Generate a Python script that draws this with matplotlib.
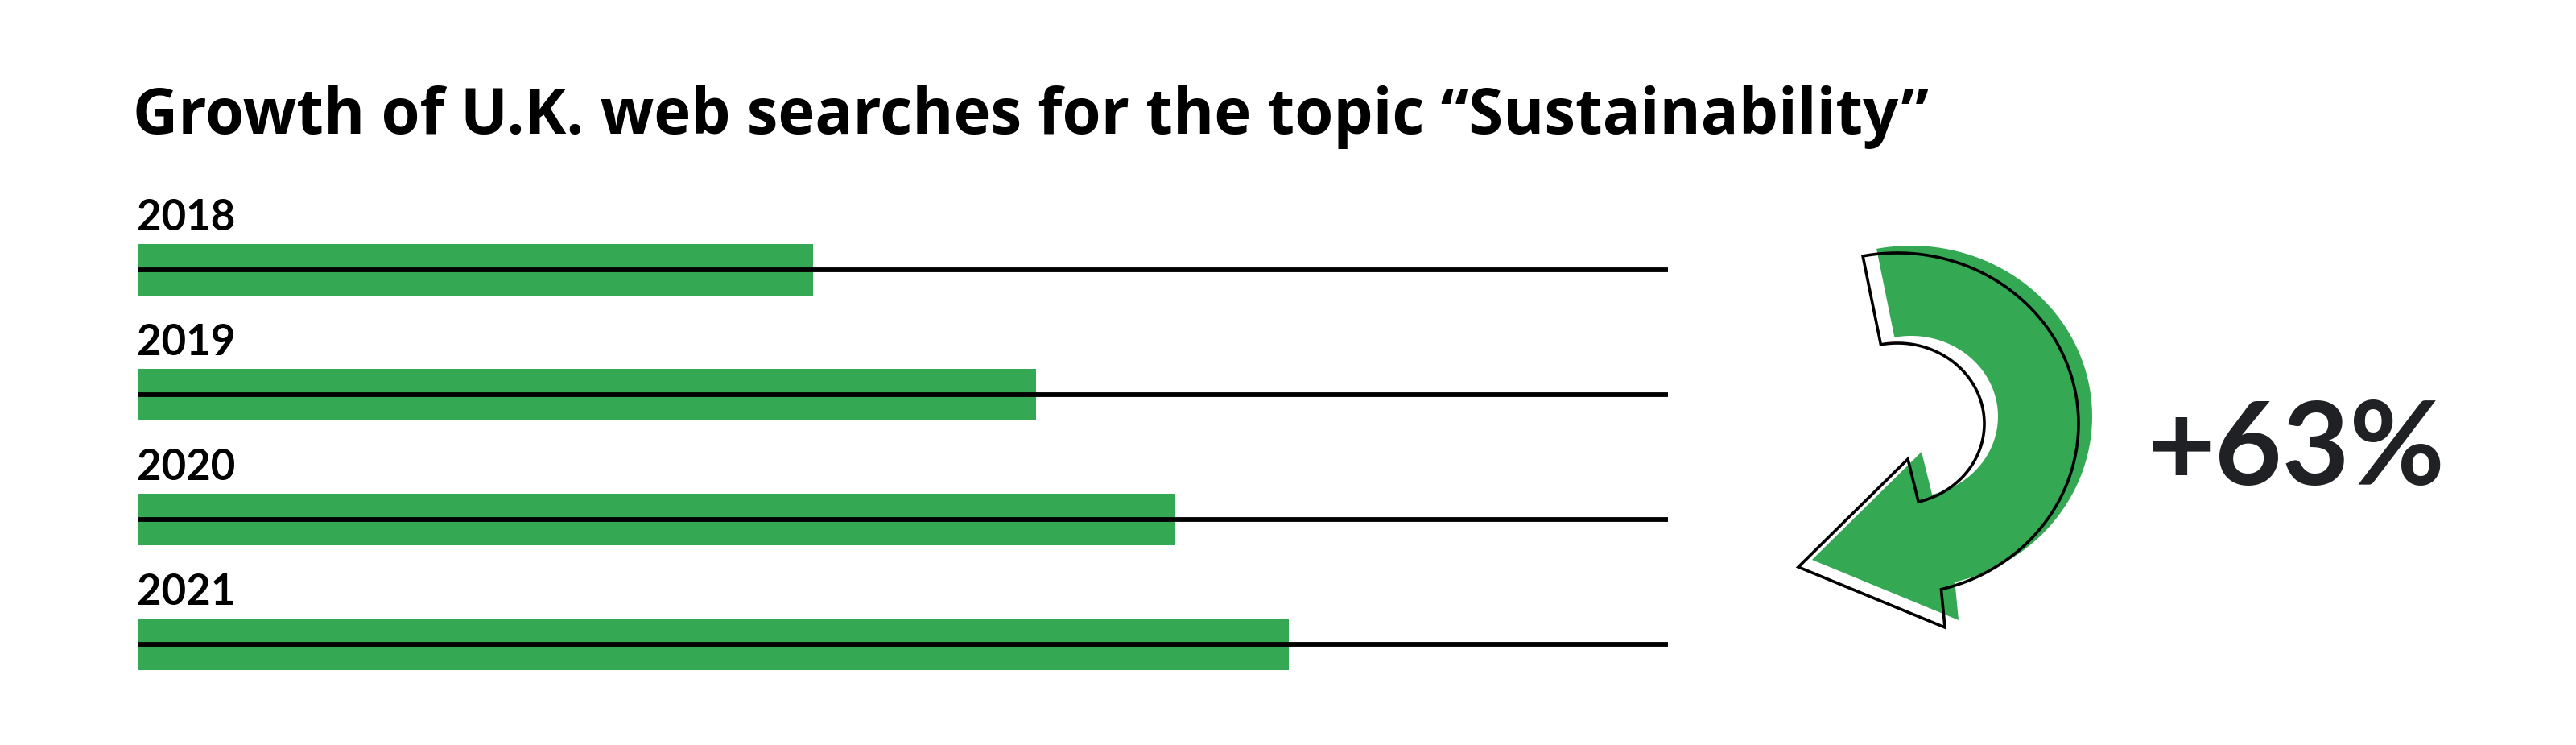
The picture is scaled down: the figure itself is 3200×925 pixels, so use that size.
import numpy as np
import matplotlib
matplotlib.use("Agg")
import matplotlib.pyplot as plt
from matplotlib.patches import Polygon

plt.rcParams['font.family'] = ['Lato', 'DejaVu Sans']

# data
years = ["2018", "2019", "2020", "2021"]
search_index = [44.1, 58.7, 67.8, 75.2]   # relative search interest, axis max = 100
axis_max = 100
growth_label = "+63%"
title = "Growth of U.K. web searches for the topic \u201cSustainability\u201d"

GREEN = "#34A853"
DARK = "#202124"

W, H = 3200, 925
fig = plt.figure(figsize=(W / 100, H / 100), dpi=100)
fig.patch.set_facecolor("white")

# bar axes: x=0 at px 172, x=100 at px 2072, rows 155 px apart
ax = fig.add_axes([172 / W, 1 - 877.5 / H, 1900 / W, 620 / H])
y = np.arange(len(years))
ax.barh(y, search_index, height=0.413, color=GREEN, zorder=1)
ax.hlines(y, 0, axis_max, color="black", lw=4.2, capstyle="butt", zorder=2)
for i, yr in enumerate(years):
    ax.text(-0.1, i - 0.316, yr, fontsize=38, fontweight="bold", color="black",
            ha="left", va="baseline")
ax.set_xlim(0, axis_max)
ax.set_ylim(len(years) - 0.5, -0.5)
ax.axis("off")

fig.text(165 / W, 1 - 166 / H, title, fontsize=56, fontweight="bold",
         color="black", ha="left", va="baseline",
         family=['Open Sans', 'DejaVu Sans'])

# curved arrow drawn in pixel space (y down)
ov = fig.add_axes([0, 0, 1, 1], zorder=3)
ov.set_xlim(0, W)
ov.set_ylim(H, 0)
ov.axis("off")


def arrow_shape(cx, cy):
    rxo, ryo, rxi, ryi = 225, 212, 108, 100
    t0, t1 = np.radians(101), np.radians(-76)
    t = np.linspace(t0, t1, 80)
    outer = np.column_stack([cx + rxo * np.cos(t), cy - ryo * np.sin(t)])
    inner = np.column_stack([cx + rxi * np.cos(t[::-1]), cy - ryi * np.sin(t[::-1])])
    head = np.array([[cx + 59, cy + 253], [cx - 123, cy + 178], [cx + 13, cy + 44]])
    return np.vstack([outer, head, inner])


cx, cy = 2374, 517
ov.add_patch(Polygon(arrow_shape(cx, cy), closed=True, facecolor=GREEN,
                     edgecolor="none"))
ov.add_patch(Polygon(arrow_shape(cx - 17, cy + 9), closed=True, facecolor="none",
                     edgecolor="black", lw=2.6, joinstyle="miter"))

fig.text(2667 / W, 1 - 602 / H, growth_label, fontsize=104, fontweight="bold",
         color=DARK, ha="left", va="baseline")

fig.savefig("out.png", dpi=100, facecolor="white")
